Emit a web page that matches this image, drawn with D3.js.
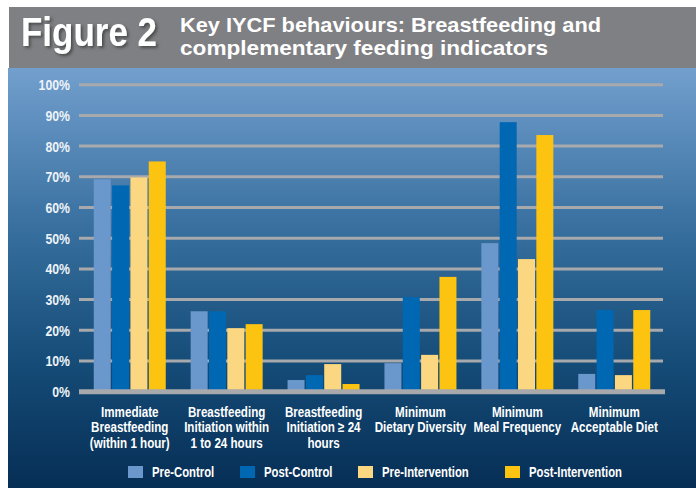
<!DOCTYPE html>
<html>
<head>
<meta charset="utf-8">
<script src="https://cdn.jsdelivr.net/npm/d3@7"></script>
<style>
  html, body { margin: 0; padding: 0; background: #ffffff; }
  svg { display: block; }
  .lbl { font-family: "Liberation Sans", Arial, sans-serif; font-weight: bold; }
</style>
</head>
<body>
<svg id="chart" width="696" height="488"></svg>
<script>
// Indicators (x categories), each label split into its printed lines
const categories = [
  ["Immediate", "Breastfeeding", "(within 1 hour)"],
  ["Breastfeeding", "Initiation within", "1 to 24 hours"],
  ["Breastfeeding", "Initiation \u2265 24", "hours"],
  ["Minimum", "Dietary Diversity"],
  ["Minimum", "Meal Frequency"],
  ["Minimum", "Acceptable Diet"]
];
const seriesNames = ["Pre-Control", "Post-Control", "Pre-Intervention", "Post-Intervention"];
const seriesColors = ["#6a97cc", "#0068b3", "#fcd781", "#fcc411"];

// Percent of children per indicator, one array per survey group
const preControl       = [69.2, 26.2, 3.8,  9.3, 48.4,  5.8];
const postControl      = [67.2, 26.2, 5.4, 30.8, 87.8, 26.6];
const preIntervention  = [69.8, 20.7, 9.0, 12.0, 43.2,  5.4];
const postIntervention = [75.0, 22.0, 2.5, 37.4, 83.6, 26.6];
const seriesValues = [preControl, postControl, preIntervention, postIntervention];

const yTicks = [0, 10, 20, 30, 40, 50, 60, 70, 80, 90, 100];

const svg = d3.select("#chart");
// horizontal condensing for the narrow label face
const squeezeTick = 0.82, squeezeCat = 0.8, squeezeLegend = 0.78;

// Backdrop: header strip and gradient panel
const defs = svg.append("defs");
const grad = defs.append("linearGradient")
  .attr("id", "panelGrad").attr("x1", 0).attr("y1", 0).attr("x2", 0).attr("y2", 1);
[["0%", "#729fce"], ["40%", "#356d9c"], ["70%", "#154c78"], ["100%", "#062e55"]]
  .forEach(([o, c]) => grad.append("stop").attr("offset", o).attr("stop-color", c));

const shadow = defs.append("filter").attr("id", "titleShadow")
  .attr("x", "-10%").attr("y", "-10%").attr("width", "130%").attr("height", "140%");
shadow.append("feDropShadow").attr("dx", 2).attr("dy", 2).attr("stdDeviation", 1.5)
  .attr("flood-color", "#333333").attr("flood-opacity", 0.7);

svg.append("rect").attr("x", 9).attr("y", 7).attr("width", 687).attr("height", 61).attr("fill", "#7f8083");
svg.append("rect").attr("x", 8).attr("y", 68).attr("width", 688).attr("height", 420).attr("fill", "url(#panelGrad)");

// Heading
svg.append("text")
  .attr("x", 21).attr("y", 46)
  .attr("textLength", 136).attr("lengthAdjust", "spacingAndGlyphs")
  .attr("fill", "#ffffff").attr("filter", "url(#titleShadow)")
  .style("font-family", "'Liberation Sans', Arial, sans-serif").style("font-weight", "bold").style("font-size", "41px")
  .text("Figure 2");

const subtitle = ["Key IYCF behaviours: Breastfeeding and", "complementary feeding indicators"];
const subtitleWidths = [421, 368];
subtitle.forEach((line, i) => {
  svg.append("text")
    .attr("x", 180).attr("y", 32 + i * 23)
    .attr("textLength", subtitleWidths[i]).attr("lengthAdjust", "spacingAndGlyphs")
    .attr("fill", "#ffffff")
    .style("font-family", "'Liberation Sans', Arial, sans-serif").style("font-weight", "bold").style("font-size", "21px")
    .text(line);
});

// Scales
const x0 = d3.scaleBand().domain(d3.range(categories.length)).range([80, 664])
  .paddingInner(0.257).paddingOuter(0.142);
const x1 = d3.scaleBand().domain(d3.range(seriesNames.length)).range([0, x0.bandwidth()])
  .paddingInner(0.073);
const y = d3.scaleLinear().domain([0, 100]).range([391.7, 84.7]);

// Tick labels (right aligned, condensed)
svg.append("g").selectAll("g")
  .data(yTicks)
  .join("g")
  .attr("transform", d => `translate(70,${y(d)}) scale(${squeezeTick},1)`)
  .append("text")
  .attr("class", "lbl")
  .attr("text-anchor", "end").attr("dy", "0.36em")
  .attr("fill", "#eef3f8").style("font-size", "15px")
  .text(d => d + "%");

// Gridlines
svg.append("g").selectAll("line")
  .data(yTicks.filter(d => d > 0))
  .join("line")
  .attr("x1", 79).attr("x2", 663)
  .attr("y1", d => y(d)).attr("y2", d => y(d))
  .attr("stroke", "#a7a9ac").attr("stroke-width", 3);

// Bars
const groups = svg.append("g").selectAll("g")
  .data(categories.map((c, i) => i))
  .join("g")
  .attr("transform", i => `translate(${x0(i)},0)`);

groups.selectAll("rect")
  .data(i => seriesValues.map((vals, s) => ({ s, v: vals[i] })))
  .join("rect")
  .attr("x", d => x1(d.s))
  .attr("width", x1.bandwidth())
  .attr("y", d => y(d.v))
  .attr("height", d => y(0) - y(d.v))
  .attr("fill", d => seriesColors[d.s]);

// Baseline
svg.append("line")
  .attr("x1", 79).attr("x2", 665)
  .attr("y1", y(0)).attr("y2", y(0))
  .attr("stroke", "#a7a9ac").attr("stroke-width", 5);

// Category labels
const catLabels = svg.append("g").selectAll("g")
  .data(categories.map((c, i) => i))
  .join("g")
  .attr("transform", i => `translate(${x0(i) + x0.bandwidth() / 2},416.5) scale(${squeezeCat},1)`)
  .append("text")
  .attr("class", "lbl")
  .attr("fill", "#ffffff")
  .attr("text-anchor", "middle")
  .style("font-size", "14.5px");
catLabels.selectAll("tspan")
  .data(i => categories[i])
  .join("tspan")
  .attr("x", 0)
  .attr("y", (d, j) => j * 16)
  .text(d => d);

// Legend
const legendX = [128, 240, 358, 505];
const legend = svg.append("g").selectAll("g")
  .data(seriesNames.map((n, i) => i))
  .join("g")
  .attr("transform", i => `translate(${legendX[i]},466)`);
legend.append("rect").attr("width", 15).attr("height", 12).attr("fill", i => seriesColors[i]);
legend.append("g")
  .attr("transform", `translate(24,6) scale(${squeezeLegend},1)`)
  .append("text")
  .attr("class", "lbl")
  .attr("dy", "0.36em")
  .attr("fill", "#ffffff").style("font-size", "14.5px")
  .text(i => seriesNames[i]);
</script>
</body>
</html>
